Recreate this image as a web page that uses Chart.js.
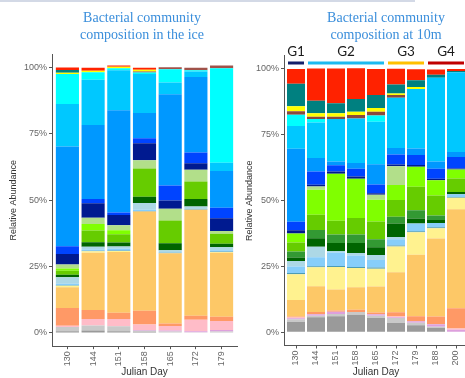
<!DOCTYPE html>
<html>
<head>
<meta charset="utf-8">
<script src="https://cdn.jsdelivr.net/npm/chart.js@4.4.0/dist/chart.umd.min.js"></script>
<style>
  html, body { margin: 0; padding: 0; width: 465px; height: 378px; overflow: hidden; background: #fff; }
  canvas { position: absolute; top: 0; }
  .title { position: absolute; width: 170px; font-family: "Liberation Serif", serif; font-size: 14px; line-height: 17px; color: #3a8edb; text-align: center; }
  .topline { position: absolute; left: 0; top: 0; width: 415px; height: 2px; background: #d3d9e6; }
</style>
</head>
<body>
<div class="topline"></div>
<canvas id="ice" width="240" height="378" style="left:0"></canvas>
<canvas id="sea" width="240" height="378" style="left:236px"></canvas>
<div class="title" style="left:57px; top:9px;">Bacterial community<br>composition in the ice</div>
<div class="title" style="left:301px; top:9px;">Bacterial community<br>composition at 10m</div>
<script>
// taxa, bottom of the stack first
const taxa = ['dark grey', 'light grey', 'plum', 'pink', 'salmon', 'light orange', 'light yellow', 'steel',
  'light sky', 'light blue', 'dark green', 'green', 'yellow green', 'chartreuse', 'light green', 'navy',
  'blue', 'dodger blue', 'deep sky', 'cyan', 'brown', 'yellow', 'teal', 'red', 'dark brown'];
const taxaColors = ['#9a9a9a', '#c9c9c9', '#dda0dd', '#ffbcc8', '#ff9966', '#fdc867', '#fff28f', '#4c9cb4',
  '#87cefa', '#add8e6', '#006400', '#339933', '#66cc00', '#80ff00', '#b2df8a', '#001a90',
  '#0044ff', '#0098ff', '#00c8ff', '#00ffff', '#8b4a3c', '#ffff00', '#008080', '#ff2200', '#a0524a'];

const iceDays = ['130', '144', '151', '158', '165', '172', '179'];
const seaDays = ['130', '144', '151', '158', '165', '172', '179', '188', '200'];
const yTicks = [0, 25, 50, 75, 100];

// relative abundance (%) per sample, same order as taxa
const ice130 = [0.6, 1.6, 0, 0.5, 6.7, 7.8, 0.6, 0.2, 0.5, 2.5, 0.9, 0, 1.5, 0.9, 1.5, 4.0, 2.9, 37.6, 16.0, 11.3, 0, 0.5, 1.0, 1.0, 0];
const ice144 = [0.9, 1.9, 0, 2.5, 3.3, 21.6, 0.6, 0.2, 0.5, 1.0, 1.7, 0, 4.4, 2.5, 2.3, 5.5, 1.6, 27.9, 17.0, 2.9, 0, 0.5, 0, 1.2, 0];
const ice151 = [0.6, 1.9, 0, 2.8, 2.3, 22.9, 0.4, 0.2, 0.6, 0.9, 1.5, 0, 3.1, 1.5, 1.9, 3.9, 0.9, 38.5, 15.1, 0.8, 0, 0.5, 0, 0.5, 0];
const ice158 = [0.4, 0.4, 0.3, 2.1, 5.2, 37.4, 0, 0.2, 0.4, 2.6, 2.3, 0, 10.7, 0, 3.1, 6.4, 1.9, 9.5, 14.7, 0.6, 0.4, 0.6, 0, 0.8, 0];
const ice165 = [0, 0.5, 0.4, 1.7, 1.0, 26.4, 0, 0.2, 0, 1.0, 2.6, 0, 8.6, 0, 4.4, 3.1, 5.7, 34.4, 4.4, 5.0, 0, 0, 0, 0, 0.8];
const ice172 = [0, 0.3, 0.3, 4.4, 1.5, 39.9, 0, 0.2, 0, 1.1, 2.8, 0, 6.6, 0, 4.4, 2.5, 4.0, 28.5, 2.1, 0.4, 0, 0, 0, 0, 1.0];
const ice179 = [0, 0.5, 0.6, 3.4, 1.6, 24.1, 0.3, 0.2, 0.5, 1.1, 1.3, 0, 3.8, 0, 1.0, 4.8, 4.0, 13.8, 3.2, 35.6, 0, 0, 0, 0, 1.0];

const sea130 = [3.9, 1.1, 0.3, 0.3, 0.4, 6.3, 9.8, 0.4, 2.5, 2.1, 1.3, 2.3, 3.4, 3.4, 0, 1.3, 3.2, 27.7, 8.6, 4.3, 1.3, 1.9, 8.6, 5.6, 0];
const sea144 = [5.7, 0.6, 0.6, 0, 0.8, 9.8, 7.2, 0.4, 3.4, 4.0, 3.2, 3.2, 5.7, 9.5, 1.3, 0.6, 5.1, 5.1, 13.5, 1.3, 0.9, 1.3, 4.7, 12.3, 0];
const sea151 = [6.1, 0.9, 0.8, 0, 0.5, 8.0, 8.5, 0.4, 5.1, 0.6, 3.0, 3.2, 5.3, 17.8, 0, 0.9, 2.3, 1.5, 16.1, 0, 0.9, 1.3, 3.8, 13.2, 0];
const sea158 = [6.7, 1.0, 0, 0, 0.9, 8.5, 7.3, 0.4, 4.4, 0.9, 3.8, 3.2, 6.3, 14.9, 0, 0.9, 2.9, 2.2, 16.9, 0, 1.3, 1.3, 4.8, 11.7, 0];
const sea165 = [5.4, 0.9, 0.6, 0, 0.6, 9.9, 6.7, 0.5, 2.9, 1.9, 2.9, 3.0, 6.8, 8.2, 1.9, 0.6, 3.3, 7.7, 16.2, 2.3, 1.5, 1.4, 4.9, 9.9, 0];
const sea172 = [3.5, 1.9, 0.3, 0.3, 1.6, 15.2, 9.8, 0.4, 2.3, 0.9, 5.1, 2.6, 6.3, 5.7, 7.2, 0.6, 3.8, 2.5, 19.1, 0, 1.0, 0.6, 3.4, 6.0, 0];
const sea179 = [2.7, 0.9, 0.6, 0, 1.9, 23.4, 8.5, 0.4, 2.9, 0, 1.9, 3.2, 8.9, 7.6, 0, 0.6, 3.8, 2.5, 22.6, 0, 0, 0.8, 2.5, 4.2, 0];
const sea188 = [1.6, 0.5, 1.0, 0, 2.9, 29.6, 3.9, 0.4, 1.6, 0, 1.2, 1.7, 7.6, 5.7, 0, 0.6, 3.8, 2.8, 31.8, 0, 0, 0, 1.1, 2.0, 0];
const sea200 = [0, 0, 1.0, 0.5, 7.6, 37.6, 4.4, 0.3, 1.0, 0, 0.9, 0, 5.1, 3.4, 0, 0.4, 4.4, 1.9, 30.3, 0, 0, 0, 0.4, 0.8, 0];

const iceBars = [ice130, ice144, ice151, ice158, ice165, ice172, ice179];
const seaBars = [sea130, sea144, sea151, sea158, sea165, sea172, sea179, sea188, sea200];

// sample groups of the 10m panel
const groupNames = ['G1', 'G2', 'G3', 'G4'];
const groupFrom = ['130', '144', '172', '188'];
const groupTo = ['130', '165', '179', '200'];
const groupColors = ['#14206b', '#1cbaf0', '#ffc000', '#c00000'];

Chart.defaults.font.family = '"Liberation Sans", Arial, sans-serif';

const groupPlugin = {
  id: 'groups',
  afterDraw(chart) {
    const ctx = chart.ctx;
    const x = chart.scales.x;
    ctx.save();
    ctx.font = '13.5px Lato';
    ctx.textAlign = 'center';
    ctx.textBaseline = 'middle';
    groupNames.forEach((g, i) => {
      const a = seaDays.indexOf(groupFrom[i]) + 1;
      const b = seaDays.indexOf(groupTo[i]) + 1;
      const x1 = x.getPixelForValue(a - 0.45) + 1;
      const x2 = x.getPixelForValue(b + 0.45) - 1;
      ctx.fillStyle = groupColors[i];
      ctx.fillRect(x1, 61.5, x2 - x1, 3);
      ctx.fillStyle = '#1a1a1a';
      ctx.fillText(g, (x1 + x2) / 2, 51.5);
    });
    ctx.restore();
  }
};

function makeChart(id, days, bars, box, plugins) {
  const datasets = taxa.map((name, k) => ({
    label: name,
    data: bars.map((bar, i) => ({ x: i + 1, y: bar[k] })),
    backgroundColor: taxaColors[k],
    borderWidth: 0,
    barPercentage: 0.9,
    categoryPercentage: 1,
  }));

  return new Chart(document.getElementById(id), {
    type: 'bar',
    data: { datasets: datasets },
    plugins: plugins,
    options: {
      responsive: false,
      animation: false,
      layout: { padding: { top: box.top, right: box.right, left: 0, bottom: 0 } },
      scales: {
        x: {
          type: 'linear',
          stacked: true,
          offset: false,
          min: 0.4,
          max: days.length + 0.6,
          afterBuildTicks: (scale) => { scale.ticks = days.map((d, i) => ({ value: i + 1 })); },
          afterFit: (scale) => { scale.height = box.xHeight; },
          grid: { offset: false, drawOnChartArea: false, tickLength: 3, color: '#555' },
          border: { color: '#555', width: 1 },
          ticks: {
            autoSkip: false,
            minRotation: 90,
            maxRotation: 90,
            padding: 2,
            color: '#666',
            font: { size: 9 },
            callback: (v) => days[v - 1],
          },
          title: { display: true, text: 'Julian Day', color: '#333', font: { size: 10 }, padding: 0 },
        },
        y: {
          stacked: true,
          min: -5,
          max: 105,
          afterBuildTicks: (scale) => { scale.ticks = yTicks.map((v) => ({ value: v })); },
          afterFit: (scale) => { scale.width = box.yWidth; },
          grid: { drawOnChartArea: false, tickLength: 3, color: '#555' },
          border: { color: '#555', width: 1 },
          ticks: {
            padding: 2,
            color: '#666',
            font: { size: 9 },
            callback: (v) => v + '%',
          },
          title: { display: true, text: 'Relative Abundance', color: '#333', font: { size: 9 }, padding: { top: 8, bottom: 0 } },
        }
      },
      plugins: {
        legend: { display: false },
        tooltip: { enabled: false },
      }
    }
  });
}

makeChart('ice', iceDays, iceBars, { top: 54.4, right: 3, yWidth: 52, xHeight: 31.8 }, []);
makeChart('sea', seaDays, seaBars, { top: 55.8, right: 8, yWidth: 48, xHeight: 32.5 }, [groupPlugin]);
</script>
</body>
</html>
